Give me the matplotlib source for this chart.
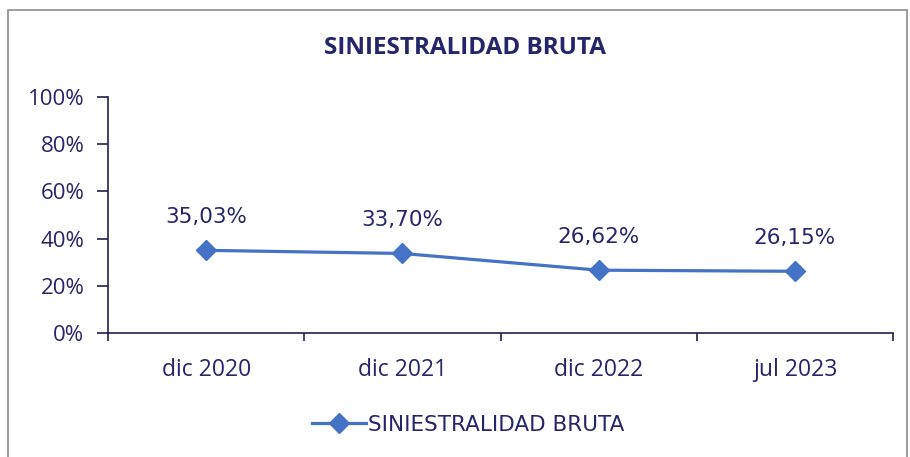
import matplotlib.pyplot as plt
from matplotlib.patches import Rectangle

# data
categories = ['dic 2020', 'dic 2021', 'dic 2022', 'jul 2023']
siniestralidad = [0.3503, 0.3370, 0.2662, 0.2615]
value_labels = ['35,03%', '33,70%', '26,62%', '26,15%']
y_ticks = [0, 0.2, 0.4, 0.6, 0.8, 1.0]
y_tick_labels = ['0%', '20%', '40%', '60%', '80%', '100%']

TEXT = '#25256a'
AXIS = '#1f2050'
LINE = '#4472c4'

plt.rcParams['font.family'] = ['Open Sans', 'DejaVu Sans']

fig = plt.figure(figsize=(9.1, 4.57), dpi=100)
fig.patches.append(Rectangle((8 / 910, -0.01), 899 / 910, 1 - 10 / 457 + 0.01,
                             transform=fig.transFigure, fill=False,
                             edgecolor='#8c8c8c', linewidth=1.2))

ax = fig.add_axes([108 / 910, 1 - 333 / 457, (893 - 108) / 910, (333 - 97) / 457])
x = list(range(len(categories)))
ax.plot(x, siniestralidad, color=LINE, linewidth=2.3, marker='D', markersize=10,
        label='SINIESTRALIDAD BRUTA')
for xi, v, lab in zip(x, siniestralidad, value_labels):
    ax.annotate(lab, (xi, v), xytext=(0, 17), textcoords='offset points',
                ha='center', va='bottom', fontsize=15.5, color=TEXT,
                family=['DejaVu Sans'])

ax.set_xlim(-0.5, len(categories) - 0.5)
ax.set_ylim(0, 1)
ax.set_yticks(y_ticks)
ax.set_yticklabels(y_tick_labels)
ax.set_xticks([i - 0.5 for i in range(len(categories) + 1)])
ax.set_xticklabels([])
ax.set_xticks(x, minor=True)
ax.set_xticklabels(categories, minor=True)
ax.tick_params(axis='x', which='major', length=6, direction='out', color=AXIS, width=1.2)
ax.tick_params(axis='x', which='minor', length=0, pad=18, labelsize=16.5, labelcolor=TEXT)
ax.tick_params(axis='y', length=8, direction='out', color=AXIS, width=1.2,
               labelsize=16, labelcolor=TEXT, pad=9)
for side in ['top', 'right']:
    ax.spines[side].set_visible(False)
for side in ['left', 'bottom']:
    ax.spines[side].set_color(AXIS)
    ax.spines[side].set_linewidth(1.2)

fig.text(465 / 910, 1 - 48 / 457, 'SINIESTRALIDAD BRUTA', ha='center', va='center',
         fontsize=17.5, fontweight='bold', color=TEXT)

leg = fig.legend(loc='center', bbox_to_anchor=(468 / 910, 1 - 425 / 457), frameon=False,
                 prop={'family': ['DejaVu Sans'], 'size': 15.5},
                 handlelength=2.5, handletextpad=0.1)
for t in leg.get_texts():
    t.set_color(TEXT)

fig.savefig('out.png', dpi=100)
